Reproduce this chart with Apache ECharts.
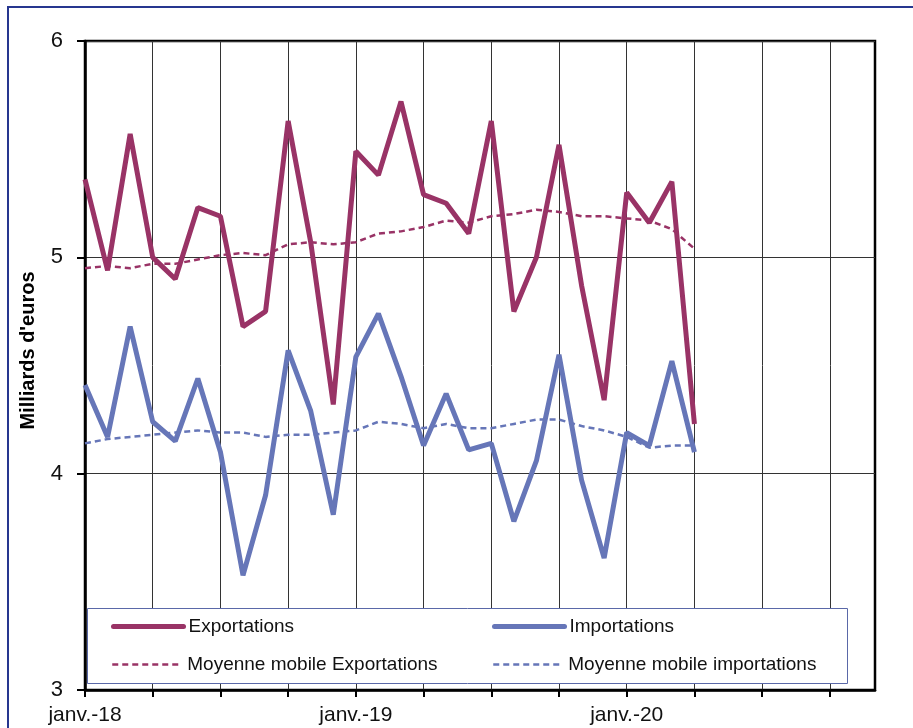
<!DOCTYPE html>
<html>
<head>
<meta charset="utf-8">
<script src="https://cdn.jsdelivr.net/npm/echarts@6/dist/echarts.min.js"></script>
<style>
  html, body { margin: 0; padding: 0; background: #ffffff; }
  #chart { width: 913px; height: 728px; }
</style>
</head>
<body>
<div id="chart"></div>
<script>
// Mois de janvier 2018 à décembre 2020
const mois = [
  'janv.-18', 'févr.-18', 'mars-18', 'avr.-18', 'mai-18', 'juin-18',
  'juil.-18', 'août-18', 'sept.-18', 'oct.-18', 'nov.-18', 'déc.-18',
  'janv.-19', 'févr.-19', 'mars-19', 'avr.-19', 'mai-19', 'juin-19',
  'juil.-19', 'août-19', 'sept.-19', 'oct.-19', 'nov.-19', 'déc.-19',
  'janv.-20', 'févr.-20', 'mars-20', 'avr.-20', 'mai-20', 'juin-20',
  'juil.-20', 'août-20', 'sept.-20', 'oct.-20', 'nov.-20', 'déc.-20'
];

// Milliards d'euros, janvier 2018 à avril 2020
const exportations = [5.36, 4.94, 5.57, 5.00, 4.90, 5.23, 5.19, 4.68, 4.75, 5.63, 5.07, 4.32,
                      5.49, 5.38, 5.72, 5.29, 5.25, 5.11, 5.63, 4.75, 5.00, 5.52, 4.87, 4.34,
                      5.30, 5.16, 5.35, 4.23];
const importations = [4.41, 4.17, 4.68, 4.24, 4.15, 4.44, 4.10, 3.53, 3.90, 4.57, 4.29, 3.81,
                      4.54, 4.74, 4.45, 4.13, 4.37, 4.11, 4.14, 3.78, 4.06, 4.55, 3.97, 3.61,
                      4.19, 4.13, 4.52, 4.10];
const moyenneExport = [4.95, 4.96, 4.95, 4.97, 4.97, 4.99, 5.01, 5.02, 5.01, 5.06, 5.07, 5.06,
                       5.07, 5.11, 5.12, 5.14, 5.17, 5.16, 5.19, 5.20, 5.22, 5.21, 5.19, 5.19,
                       5.18, 5.17, 5.13, 5.04];
const moyenneImport = [4.14, 4.16, 4.17, 4.18, 4.19, 4.20, 4.19, 4.19, 4.17, 4.18, 4.18, 4.19,
                       4.20, 4.24, 4.23, 4.21, 4.23, 4.21, 4.21, 4.23, 4.25, 4.25, 4.22, 4.20,
                       4.17, 4.12, 4.13, 4.13];

const couleurExport = '#993366';
const couleurImport = '#6676B8';
const police = '"Liberation Sans", Arial, sans-serif';

const chart = echarts.init(document.getElementById('chart'), null, { renderer: 'canvas' });

// Une légende par entrée, pour aligner les deux colonnes
function legende(nom, left, top, trait) {
  return {
    data: [nom], left: left, top: top, orient: 'horizontal',
    itemWidth: 70, itemHeight: 14, padding: 0, z: 10,
    selectedMode: false,
    itemStyle: { color: 'rgba(0,0,0,0)', borderColor: 'rgba(0,0,0,0)', borderWidth: 0, opacity: 0 },
    lineStyle: trait,
    textStyle: { fontFamily: police, fontSize: 19, color: '#111' }
  };
}

const traitPlein = { width: 5, cap: 'round' };
const traitTirets = { width: 2.5, type: [6, 4] };

chart.setOption({
  animation: false,
  backgroundColor: '#ffffff',
  grid: {
    left: 85, right: 38, top: 41, bottom: 38,
    show: true, borderColor: '#000', borderWidth: 2.5, backgroundColor: 'transparent'
  },
  xAxis: {
    type: 'category',
    data: mois,
    boundaryGap: false,
    axisLine: { lineStyle: { color: '#000', width: 2.5 } },
    axisTick: { interval: 2, length: 7, lineStyle: { color: '#000', width: 2 } },
    axisLabel: { interval: 11, fontFamily: police, fontSize: 21, color: '#111', margin: 15 },
    splitLine: { show: true, interval: 2, lineStyle: { color: '#333', width: 1 } }
  },
  yAxis: {
    type: 'value',
    min: 3, max: 6, interval: 1,
    name: "Milliards d'euros",
    nameLocation: 'middle',
    nameGap: 47,
    nameTextStyle: { fontFamily: police, fontSize: 20, fontWeight: 'bold', color: '#000', padding: [0, 0, 0, 30] },
    axisLine: { show: true, lineStyle: { color: '#000', width: 2.5 } },
    axisTick: { show: true, length: 8, lineStyle: { color: '#000', width: 2 } },
    axisLabel: { fontFamily: police, fontSize: 22, color: '#111', margin: 22 },
    splitLine: { show: true, lineStyle: { color: '#333', width: 1 } }
  },
  legend: [
    legende('Exportations', 111, 617, traitPlein),
    legende('Importations', 492, 617, traitPlein),
    legende('Moyenne mobile Exportations', 111, 655, traitTirets),
    legende('Moyenne mobile importations', 492, 655, traitTirets)
  ],
  graphic: [
    {
      type: 'rect', z: 5,
      shape: { x: 87.5, y: 608.5, width: 760, height: 75 },
      style: { fill: '#ffffff', stroke: '#5A68A8', lineWidth: 1 }
    },
    {
      type: 'rect', z: 1, silent: true,
      shape: { x: 8, y: 7, width: 1000, height: 1000 },
      style: { fill: 'none', stroke: '#26368F', lineWidth: 2 }
    }
  ],
  series: [
    {
      name: 'Exportations', type: 'line', data: exportations, symbol: 'none',
      lineStyle: { color: couleurExport, width: 5 }, itemStyle: { color: couleurExport }, z: 4
    },
    {
      name: 'Importations', type: 'line', data: importations, symbol: 'none',
      lineStyle: { color: couleurImport, width: 5 }, itemStyle: { color: couleurImport }, z: 4
    },
    {
      name: 'Moyenne mobile Exportations', type: 'line', data: moyenneExport, symbol: 'none',
      lineStyle: { color: couleurExport, width: 2.5, type: [6, 4] }, itemStyle: { color: couleurExport }, z: 3
    },
    {
      name: 'Moyenne mobile importations', type: 'line', data: moyenneImport, symbol: 'none',
      lineStyle: { color: couleurImport, width: 2.5, type: [6, 4] }, itemStyle: { color: couleurImport }, z: 3
    }
  ]
});
</script>
</body>
</html>
